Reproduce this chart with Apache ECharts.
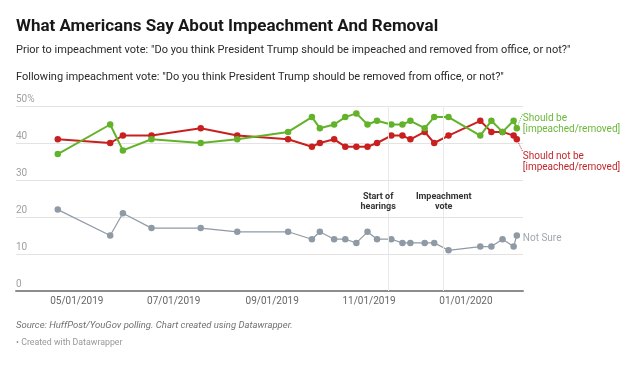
<!DOCTYPE html>
<html><head><meta charset="utf-8">
<script src="https://cdn.jsdelivr.net/npm/echarts@6/dist/echarts.min.js"></script>
<style>html,body{margin:0;padding:0;background:#fff}#c{width:640px;height:368px}</style>
</head><body><div id="c"></div>
<script>
// ---- data ----
const pollDates = ['2019-04-19','2019-05-22','2019-05-30','2019-06-17','2019-07-18','2019-08-10',
  '2019-09-11','2019-09-26','2019-10-01','2019-10-10','2019-10-17','2019-10-24','2019-10-31',
  '2019-11-06','2019-11-15','2019-11-22','2019-11-27','2019-12-06','2019-12-12','2019-12-21',
  '2020-01-10','2020-01-17','2020-01-24','2020-01-31','2020-02-02'];
const shouldBe    = [37,45,38,41,40,41,43,47,44,45,47,48,45,46,45,45,46,44,47,47,42,46,43,46,44];
const shouldNotBe = [41,40,42,42,44,42,41,39,40,41,39,39,39,40,42,42,41,43,40,42,46,43,43,42,41];
const notSure     = [22,15,21,17,17,16,16,14,16,14,14,13,16,14,14,13,13,13,13,11,12,12,14,12,15];
const xTickDates = ['2019-05-01','2019-07-01','2019-09-01','2019-11-01','2020-01-01'];
const yTicks = [0,10,20,30,40,50];
const eventDates = ['2019-11-13','2019-12-18'];
const eventLabels = ['Start of\nhearings','Impeachment\nvote'];
const seriesNames = ['Should be\n[impeached/removed]','Should not be\n[impeached/removed]','Not Sure'];
const titleText = 'What Americans Say About Impeachment And Removal';
const subtitle1 = 'Prior to impeachment vote: "Do you think President Trump should be impeached and removed from office, or not?"';
const subtitle2 = 'Following impeachment vote: "Do you think President Trump should be removed from office, or not?"';
const sourceText = 'Source: HuffPost/YouGov polling. Chart created using Datawrapper.';
const creditText = '• Created with Datawrapper';

// ---- helpers ----
function ts(s){const p=s.split('-').map(Number);return Date.UTC(p[0],p[1]-1,p[2]);}
const DAY = 864e5;
function pad(n){return (n<10?'0':'')+n;}
function fmt(v){const d=new Date(v);return pad(d.getUTCMonth()+1)+'/'+pad(d.getUTCDate())+'/'+d.getUTCFullYear();}
const xs = pollDates.map(ts);
const lastX = xs[xs.length-1];

const GREEN='#62b32a', RED='#c8201f', GRAY='#8f9aa5';
const FONT='Roboto';

function lineSeries(name, vals, color, width, labelColor, offset){
  return {
    type:'line', name:name, data: xs.map((x,i)=>[x, vals[i]]),
    symbol:'circle', symbolSize:6.5, showSymbol:true,
    lineStyle:{color:color, width:width}, itemStyle:{color:color},
    emphasis:{disabled:true}, animation:false,
    endLabel:{show:true, formatter:name, color:labelColor, fontFamily:FONT, fontSize:10,
      lineHeight:11, distance:6, offset:offset, align:'left'}
  };
}

const s1 = lineSeries(seriesNames[0], shouldBe, GREEN, 2, '#6cb83a', [0,-4]);
s1.z = 4;
s1.markLine = {silent:true, symbol:'none', animation:false,
  lineStyle:{color:GREEN, type:'dotted', width:1}, label:{show:false},
  data:[[{coord:[lastX, shouldBe[shouldBe.length-1]]},{coord:[lastX+3.8*DAY, 48]}]]};
const s2 = lineSeries(seriesNames[1], shouldNotBe, RED, 2, '#c3272b', [0,23]);
s2.z = 3;
s2.markLine = {silent:true, symbol:'none', animation:false,
  lineStyle:{color:RED, type:'dotted', width:1}, label:{show:false},
  data:[[{coord:[lastX, shouldNotBe[shouldNotBe.length-1]]},{coord:[lastX+3.8*DAY, 37.6]}]]};
const s3 = lineSeries(seriesNames[2], notSure, GRAY, 1.2, '#9ea7b0', [0,3]);
s3.z = 2;
s3.markLine = {silent:true, symbol:'none', animation:false,
  lineStyle:{color:'#e9e9e9', type:'solid', width:1}, label:{show:false},
  data: eventDates.map(d=>({xAxis: ts(d)}))};
const eventOffsets = [[-10,0],[0,0]];
s3.markPoint = {silent:true, animation:false, symbol:'circle', symbolSize:0,
  data: eventDates.map((d,i)=>({coord:[ts(d), 24.1], value:eventLabels[i],
    label:{show:true, position:'inside', formatter:eventLabels[i], offset:eventOffsets[i],
      color:'#333', fontFamily:FONT, fontWeight:'bold', fontSize:9, lineHeight:9.5, align:'center'}}))};

const chart = echarts.init(document.getElementById('c'), null, {renderer:'canvas'});
chart.setOption({
  animation:false,
  textStyle:{fontFamily:FONT},
  grid:{left:16, right:117, top:106, bottom:77, containLabel:false},
  xAxis:{
    type:'value',
    min: ts(xTickDates[0]) - 38.3*DAY,
    max: ts(xTickDates[0]) + 280.9*DAY,
    axisLine:{show:true, lineStyle:{color:'#8c8c8c', width:2}},
    axisTick:{show:false},
    splitLine:{show:false},
    axisLabel:{customValues: xTickDates.map(ts), formatter:(v)=>fmt(v), color:'#666', fontSize:10, margin:5, hideOverlap:false}
  },
  yAxis:{
    type:'value', min:yTicks[0], max:yTicks[yTicks.length-1], interval:10,
    axisLine:{show:false}, axisTick:{show:false},
    splitLine:{lineStyle:{color:'#e3e3e3', width:1}},
    axisLabel:{inside:true, margin:0, align:'left', verticalAlign:'bottom', padding:[0,0,2,0],
      color:'#a0a0a0', fontSize:10, formatter:(v)=> v===yTicks[yTicks.length-1] ? v+'%' : String(v)}
  },
  series:[s3, s2, s1],
  graphic:[
    {type:'text', left:16, top:18, style:{text:titleText, fill:'#181818', font:'bold 17px Roboto'}},
    {type:'text', left:16, top:45, style:{text:subtitle1, fill:'#2a2a2a', font:'11px Roboto'}},
    {type:'text', left:16, top:72, style:{text:subtitle2, fill:'#2a2a2a', font:'11px Roboto'}},
    {type:'text', left:16, top:321, style:{text:sourceText, fill:'#707070', font:'italic 9.5px Roboto'}},
    {type:'text', left:16, top:338, style:{text:creditText, fill:'#999', font:'8.8px Roboto'}}
  ]
});
</script></body></html>
